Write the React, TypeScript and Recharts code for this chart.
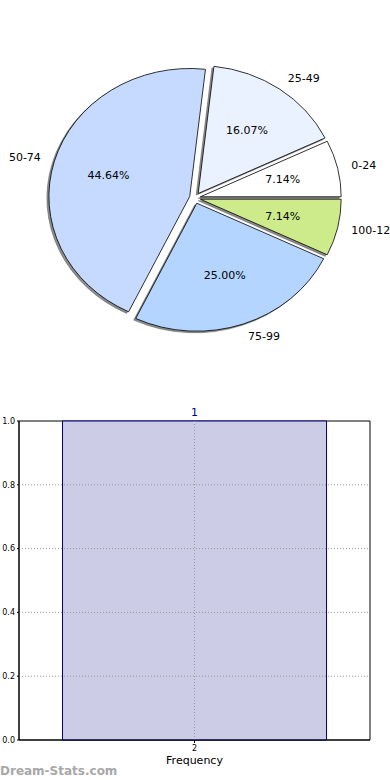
import React from "react";
import {
  PieChart,
  Pie,
  BarChart,
  Bar,
  XAxis,
  YAxis,
  LabelList,
  ReferenceLine,
  ReferenceArea,
} from "recharts";

// pie data
const ranges = ["0-24", "25-49", "50-74", "75-99", "100-124"];
const counts = [4, 9, 25, 14, 4];
const sliceColors = ["#ffffff", "#ebf2ff", "#c6d9ff", "#b4d5ff", "#cdeb8b"];

// histogram data
const binLabels = ["2"];
const frequencies = [1];
const yTicks = [0, 0.2, 0.4, 0.6, 0.8, 1.0];
const gridY = [0.2, 0.4, 0.6, 0.8];

const pieData = ranges.map((name, i) => ({ name, value: counts[i], color: sliceColors[i] }));
const barData = binLabels.map((bin, i) => ({ bin, freq: frequencies[i] }));

const FONT = "'DejaVu Sans', sans-serif";
const STRETCH = 1.1; // matplotlib pie was drawn slightly wider than tall
const EXPLODE = 5.5;
const RAD = Math.PI / 180;

// exploded centre and point on the (elliptical) rim
function geom(p: any) {
  const mid = p.midAngle * RAD;
  const ox = p.cx + EXPLODE * Math.cos(mid);
  const oy = p.cy - EXPLODE * Math.sin(mid);
  const at = (deg: number, k: number) => [
    ox + p.outerRadius * STRETCH * k * Math.cos(deg * RAD),
    oy - p.outerRadius * k * Math.sin(deg * RAD),
  ];
  return { ox, oy, at, mid };
}

function slicePath(p: any, dx = 0, dy = 0) {
  const { ox, oy, at } = geom(p);
  const [x0, y0] = at(p.startAngle, 1);
  const [x1, y1] = at(p.endAngle, 1);
  const rx = p.outerRadius * STRETCH;
  const ry = p.outerRadius;
  const large = Math.abs(p.endAngle - p.startAngle) > 180 ? 1 : 0;
  return `M${ox + dx},${oy + dy} L${x0 + dx},${y0 + dy} A${rx},${ry} 0 ${large} 0 ${x1 + dx},${y1 + dy} Z`;
}

const renderShadow = (p: any) => (
  <path
    key={`s${p.index}`}
    d={slicePath(p, -2, 1.6)}
    fill="#8c8c8c"
    stroke="#666"
    strokeWidth={0.6}
  />
);

const renderSlice = (p: any) => (
  <path
    key={`p${p.index}`}
    d={slicePath(p)}
    fill={p.payload.color}
    stroke="#000"
    strokeWidth={0.8}
  />
);

const renderTexts = (p: any) => {
  const { at, mid } = geom(p);
  const [px, py] = at(p.midAngle, 0.6);
  const [lx, ly] = at(p.midAngle, 1.1);
  return (
    <g key={`t${p.index}`} fontFamily={FONT} fontSize={11} fill="#000">
      <text x={px} y={py} textAnchor="middle" dominantBaseline="central">
        {(p.percent * 100).toFixed(2)}%
      </text>
      <text x={lx} y={ly} textAnchor={Math.cos(mid) >= 0 ? "start" : "end"} dominantBaseline="central">
        {p.name}
      </text>
    </g>
  );
};

export default function App() {
  const pieCommon = {
    data: pieData,
    dataKey: "value",
    nameKey: "name",
    cx: 195,
    cy: 198,
    outerRadius: 128,
    startAngle: 0,
    endAngle: 360,
    fill: "none",
    stroke: "none",
    labelLine: false,
    isAnimationActive: false,
  };

  return (
    <div style={{ position: "absolute", left: 0, top: 0, width: 390, height: 780, background: "#fff" }}>
      <PieChart width={390} height={380} margin={{ top: 0, right: 0, bottom: 0, left: 0 }}>
        <Pie {...pieCommon} label={renderShadow} />
        <Pie {...pieCommon} label={renderSlice} />
        <Pie {...pieCommon} label={renderTexts} />
      </PieChart>

      <BarChart
        width={390}
        height={400}
        data={barData}
        margin={{ top: 41, right: 20, bottom: 0, left: 0 }}
        barCategoryGap="12.4%"
      >
        <XAxis
          dataKey="bin"
          height={40}
          axisLine={{ stroke: "#000" }}
          tickLine={{ stroke: "#000" }}
          tickSize={3}
          tick={{ fontSize: 8, fill: "#000", fontFamily: FONT }}
          label={{ value: "Frequency", position: "insideTop", offset: 16, fontSize: 11, fill: "#000", fontFamily: FONT }}
        />
        <YAxis
          width={19}
          domain={[0, 1]}
          ticks={yTicks}
          tickFormatter={(v: number) => v.toFixed(1)}
          axisLine={{ stroke: "#000" }}
          tickLine={{ stroke: "#000" }}
          tickSize={2}
          tick={{ fontSize: 8, fill: "#000", fontFamily: FONT }}
        />
        <Bar dataKey="freq" fill="#ccccE6" stroke="#000080" strokeWidth={1} isAnimationActive={false}>
          <LabelList dataKey="freq" position="top" offset={5} fill="#000080" fontSize={11} fontFamily={FONT} />
        </Bar>
        {gridY.map((y) => (
          <ReferenceLine key={y} y={y} stroke="#999" strokeDasharray="1 2" />
        ))}
        <ReferenceLine x="2" stroke="#999" strokeDasharray="1 2" />
        <ReferenceArea y1={0} y2={1} fill="none" stroke="#000" strokeWidth={1} />
      </BarChart>

      <div
        style={{
          position: "absolute",
          left: 0,
          top: 764,
          fontFamily: FONT,
          fontSize: 12,
          fontWeight: "bold",
          color: "#a8a8a8",
        }}
      >
        Dream-Stats.com
      </div>
    </div>
  );
}
